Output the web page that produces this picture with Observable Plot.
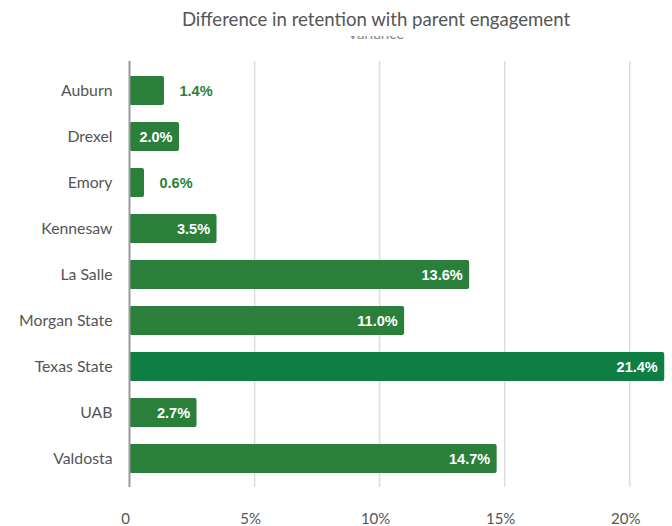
<!DOCTYPE html>
<html>
<head>
<meta charset="utf-8">
<script src="https://cdn.jsdelivr.net/npm/d3@7"></script>
<script src="https://cdn.jsdelivr.net/npm/@observablehq/plot@0.6"></script>
<style>
  html, body { margin: 0; padding: 0; background: #fff; }
  #wrap { width: 672px; }
  #title { font-family: Lato, "Open Sans", sans-serif; font-size: 18.6px; color: #555; text-align: center; height: 36px; line-height: 22px; padding-top: 8px; padding-left: 80px; box-sizing: border-box; }
  #sub { height: 4px; overflow: hidden; position: relative; }
  #sub span { position: absolute; left: 0; right: 0; text-align: center; top: -12px; font-family: Lato, sans-serif; font-size: 15px; color: #888; padding-left: 80px; }
  #gap { height: 4px; }
</style>
</head>
<body>
<div id="wrap">
  <div id="title">Difference in retention with parent engagement</div>
  <div id="sub"><span>Variance</span></div>
  <div id="gap"></div>
  <div id="chart"></div>
</div>
<script>
const schools = ["Auburn", "Drexel", "Emory", "Kennesaw", "La Salle", "Morgan State", "Texas State", "UAB", "Valdosta"];
const values = [1.4, 2.0, 0.6, 3.5, 13.6, 11.0, 21.4, 2.7, 14.7];
const highlight = "Texas State";
const xTicks = [0, 5, 10, 15, 20];
const tickLabels = ["0", "5%", "10%", "15%", "20%"];

const data = schools.map((s, i) => ({school: s, value: values[i]}));
const insideMin = 1.8;

const chart = Plot.plot({
  width: 672,
  height: 482,
  marginLeft: 129,
  marginRight: 4,
  marginTop: 17,
  marginBottom: 39,
  style: {fontFamily: "Lato, 'Open Sans', sans-serif", background: "#fff"},
  x: {domain: [0, 21.55], label: null},
  y: {domain: schools, label: null, paddingInner: 0.37, paddingOuter: 0.31},
  marks: [
    Plot.ruleX(xTicks.filter(d => d > 0), {stroke: "#dcdcdc", strokeWidth: 1.5}),
    Plot.axisX({ticks: xTicks, tickFormat: (d, i) => tickLabels[xTicks.indexOf(d)], tickSize: 0, tickPadding: 26, fontSize: 15, fill: "#555", dx: -4}),
    Plot.axisY({tickSize: 0, tickPadding: 17, fontSize: 15.8, fill: "#555", textAnchor: "end"}),
    Plot.barX(data, {x: "value", y: "school", fill: d => d.school === highlight ? "#0f7e42" : "#2a7f3a", rx: 2}),
    Plot.ruleX([0], {stroke: "#999", strokeWidth: 2}),
    Plot.text(data.filter(d => d.value >= insideMin), {x: "value", y: "school", text: d => d.value.toFixed(1) + "%", textAnchor: "end", dx: -7, fill: "white", fontWeight: "bold", fontSize: 14.5, fontFamily: "'Liberation Sans', Arial, sans-serif"}),
    Plot.text(data.filter(d => d.value < insideMin), {x: "value", y: "school", text: d => d.value.toFixed(1) + "%", textAnchor: "start", dx: 15, fill: "#2a7f3a", fontWeight: "bold", fontSize: 14.5, fontFamily: "'Liberation Sans', Arial, sans-serif"})
  ]
});
document.getElementById("chart").appendChild(chart);
</script>
</body>
</html>
